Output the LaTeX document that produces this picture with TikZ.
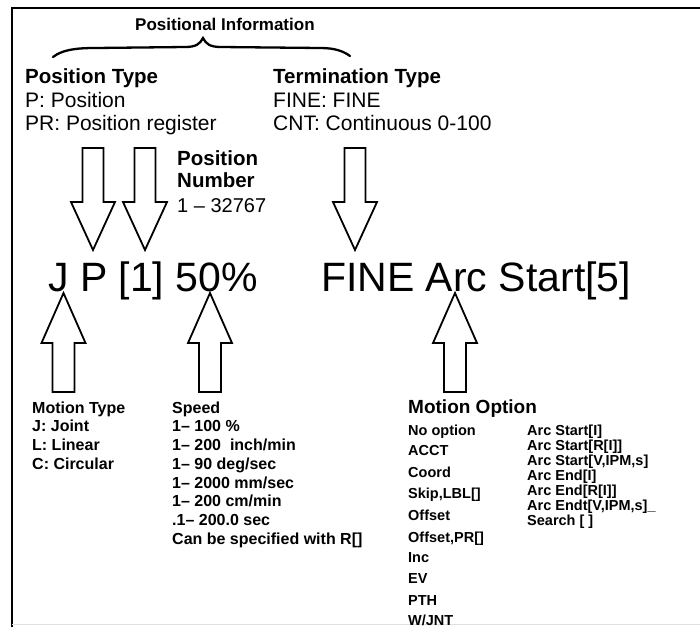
\documentclass[tikz,border=0pt]{standalone}
\usepackage{fontspec}
\setmainfont{Liberation Sans}
\begin{document}
\begin{tikzpicture}[x=1pt,y=-1pt,
  lbl/.style={anchor=base west, inner sep=0pt},
  head/.style={lbl, font=\bfseries\fontsize{20.5}{22}\selectfont},
  reg/.style={lbl, font=\fontsize{21}{23}\selectfont},
  big/.style={lbl, font=\fontsize{41}{44}\selectfont},
  small/.style={lbl, font=\bfseries\fontsize{16}{18}\selectfont},
  opt/.style={lbl, font=\bfseries\fontsize{14.5}{16}\selectfont},
  blockarrow/.style={draw=black, line width=1.8pt, fill=white, line join=miter},
  downarr/.pic={\draw[blockarrow] (-10.5,0) -- (10.5,0) -- (10.5,54) -- (22,54) -- (0,102) -- (-22,54) -- (-10.5,54) -- cycle;},
  uparr/.pic={\draw[blockarrow] (0,0) -- (22,50) -- (11,50) -- (11,99) -- (-11,99) -- (-11,50) -- (-22,50) -- cycle;}
]
\useasboundingbox (0,0) rectangle (700,627);
% frame
\coordinate (fbl) at (12,627);
\coordinate (ftl) at (12,8);
\coordinate (ftr) at (700,8);
\draw[line width=2pt] (fbl) -- (ftl) -- (ftr);
\draw[black!12, line width=1pt] (12,624) -- (700,624);

% positional information + brace
\node[lbl, font=\bfseries\fontsize{17}{19}\selectfont] (posinfo) at (135,30) {Positional Information};
\draw[line width=2.3pt, line cap=round] (53,57) .. controls (62,50) and (75,48) .. (95,48) -- (185,47) .. controls (196,47) and (200,44) .. (203,38) .. controls (206,44) and (210,47) .. (221,47) -- (320,48) .. controls (335,48) and (343,51) .. (350,56);

% top labels
\node[head] (ptype) at (25,83) {Position Type};
\node[reg] (p1) at (25,107) {P: Position};
\node[reg] (p2) at (25,130) {PR: Position register};
\node[head] (ttype) at (273,83) {Termination Type};
\node[reg] (t1) at (273,107) {FINE: FINE};
\node[reg] (t2) at (273,130) {CNT: Continuous 0-100};
\node[head] (pn1) at (177,165) {Position};
\node[head] (pn2) at (177,187) {Number};
\node[reg, font=\fontsize{20}{22}\selectfont] (pn3) at (177,212) {1 -- 32767};

% main instruction
\node[big] (instr1) at (48,291) {J P [1] 50\%};
\node[big] (instr2) at (321,291) {FINE Arc Start[5]};

% down arrows
\coordinate (a1) at (93,148);
\coordinate (a2) at (145,148);
\coordinate (a3) at (355,148);
\pic at (a1) {downarr};
\pic at (a2) {downarr};
\pic at (a3) {downarr};
% up arrows
\coordinate (a4) at (63.5,293);
\coordinate (a5) at (210,293);
\coordinate (a6) at (455,293);
\pic at (a4) {uparr};
\pic at (a5) {uparr};
\pic at (a6) {uparr};

% motion type
\node[small] (mt0) at (32,413) {Motion Type};
\node[small] (mt1) at (32,431.5) {J: Joint};
\node[small] (mt2) at (32,450) {L: Linear};
\node[small] (mt3) at (32,469) {C: Circular};

% speed
\node[small] (sp0) at (172,413) {Speed};
\node[small] (sp1) at (172,431.5) {1-- 100 \%};
\node[small] (sp2) at (172,450) {1-- 200\ \ inch/min};
\node[small] (sp3) at (172,469) {1-- 90 deg/sec};
\node[small] (sp4) at (172,488) {1-- 2000 mm/sec};
\node[small] (sp5) at (172,506.5) {1-- 200 cm/min};
\node[small] (sp6) at (172,525) {.1-- 200.0 sec};
\node[small] (sp7) at (172,544) {Can be specified with R[]};

% motion option
\node[lbl, font=\bfseries\fontsize{19}{21}\selectfont] (mo) at (408,413) {Motion Option};
\node[opt] (o1) at (408,435) {No option};
\node[opt] (o2) at (408,455) {ACCT};
\node[opt] (o3) at (408,477) {Coord};
\node[opt] (o4) at (408,498) {Skip,LBL[]};
\node[opt] (o5) at (408,520) {Offset};
\node[opt] (o6) at (408,542) {Offset,PR[]};
\node[opt] (o7) at (408,562) {Inc};
\node[opt] (o8) at (408,583) {EV};
\node[opt] (o9) at (408,605) {PTH};
\node[opt] (o10) at (408,625) {W/JNT};
\node[opt] (r1) at (527,435) {Arc Start[I]};
\node[opt] (r2) at (527,450) {Arc Start[R[I]]};
\node[opt] (r3) at (527,465) {Arc Start[V,IPM,s]};
\node[opt] (r4) at (527,480) {Arc End[I]};
\node[opt] (r5) at (527,495) {Arc End[R[I]]};
\node[opt] (r6) at (527,510) {Arc Endt[V,IPM,s]\_};
\node[opt] (r7) at (527,525) {Search [ ]};
\end{tikzpicture}
\end{document}
